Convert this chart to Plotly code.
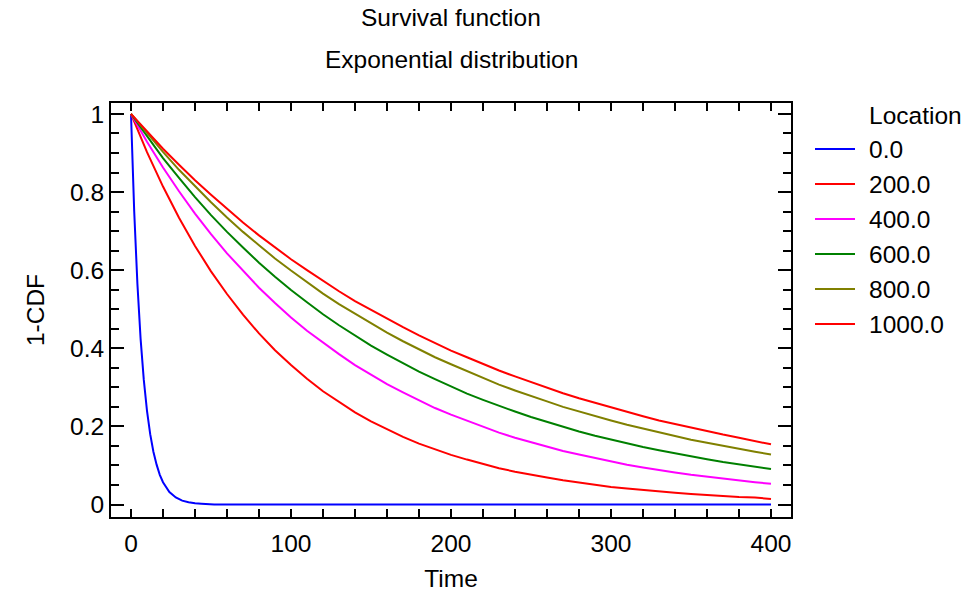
import plotly.graph_objects as go

# ---- data ----
time_blue = [0, 2, 4, 6, 8, 10, 12, 14, 16, 18, 20, 24, 28, 32, 36, 40, 44, 48, 52, 100, 200, 300, 400]
surv_loc0 = [1.0, 0.751, 0.565, 0.424, 0.319, 0.240, 0.180, 0.135, 0.102, 0.076, 0.057,
             0.032, 0.018, 0.010, 0.006, 0.003, 0.002, 0.001, 0.0, 0.0, 0.0, 0.0, 0.0]

time = [0, 10, 20, 30, 40, 50, 60, 70, 80, 90, 100, 110, 120, 130, 140, 150, 160, 170, 180, 190,
        200, 210, 220, 230, 240, 250, 260, 270, 280, 290, 300, 310, 320, 330, 340, 350, 360, 370,
        380, 390, 400]

surv_loc200 = [1.0, 0.902, 0.814, 0.734, 0.662, 0.597, 0.539, 0.486, 0.438, 0.395, 0.357,
               0.322, 0.290, 0.262, 0.236, 0.213, 0.192, 0.173, 0.156, 0.141, 0.127,
               0.115, 0.104, 0.093, 0.084, 0.076, 0.069, 0.062, 0.056, 0.050, 0.045,
               0.041, 0.037, 0.033, 0.030, 0.027, 0.024, 0.022, 0.019, 0.018, 0.014]

surv_loc400 = [1.0, 0.929, 0.863, 0.802, 0.745, 0.692, 0.643, 0.598, 0.555, 0.516, 0.479,
               0.445, 0.414, 0.385, 0.357, 0.332, 0.308, 0.287, 0.266, 0.247, 0.230,
               0.214, 0.198, 0.184, 0.171, 0.159, 0.148, 0.137, 0.128, 0.119, 0.110,
               0.102, 0.095, 0.088, 0.082, 0.076, 0.071, 0.066, 0.061, 0.057, 0.053]

surv_loc600 = [1.0, 0.942, 0.887, 0.836, 0.787, 0.741, 0.698, 0.658, 0.619, 0.583, 0.549,
               0.518, 0.487, 0.459, 0.432, 0.407, 0.384, 0.361, 0.340, 0.321, 0.302,
               0.284, 0.268, 0.252, 0.238, 0.224, 0.211, 0.199, 0.187, 0.176, 0.166,
               0.156, 0.147, 0.139, 0.131, 0.123, 0.116, 0.109, 0.103, 0.097, 0.091]

surv_loc800 = [1.0, 0.950, 0.903, 0.857, 0.815, 0.774, 0.735, 0.698, 0.664, 0.630, 0.599,
               0.569, 0.540, 0.513, 0.488, 0.463, 0.440, 0.418, 0.397, 0.377, 0.359,
               0.341, 0.324, 0.307, 0.292, 0.277, 0.264, 0.250, 0.238, 0.226, 0.215,
               0.204, 0.194, 0.184, 0.175, 0.166, 0.158, 0.150, 0.142, 0.135, 0.128]

surv_loc1000 = [1.0, 0.955, 0.911, 0.870, 0.830, 0.793, 0.757, 0.722, 0.689, 0.658, 0.628,
                0.600, 0.572, 0.546, 0.521, 0.498, 0.475, 0.454, 0.433, 0.413, 0.394,
                0.377, 0.359, 0.343, 0.328, 0.313, 0.298, 0.285, 0.272, 0.260, 0.248,
                0.236, 0.226, 0.215, 0.206, 0.196, 0.187, 0.179, 0.171, 0.163, 0.154]

legend_title = "Location"
series_names = ["0.0", "200.0", "400.0", "600.0", "800.0", "1000.0"]
series_colors = ["#0000FF", "#FF0000", "#FF00FF", "#008000", "#808000", "#FF0000"]

x_ticks = [0, 100, 200, 300, 400]
y_ticks = [0, 0.2, 0.4, 0.6, 0.8, 1]
y_tick_text = ["0", "0.2", "0.4", "0.6", "0.8", "1"]

FONT = "Liberation Sans, Arial, sans-serif"
FS = 24.5

fig = go.Figure()
all_x = [time_blue, time, time, time, time, time]
all_y = [surv_loc0, surv_loc200, surv_loc400, surv_loc600, surv_loc800, surv_loc1000]
for i, (xs, ys) in enumerate(zip(all_x, all_y)):
    fig.add_trace(go.Scatter(
        x=xs, y=ys, mode="lines", name=series_names[i],
        line=dict(color=series_colors[i], width=2),
        showlegend=False,
    ))

axis_common = dict(
    showline=True, linecolor="black", linewidth=2, mirror="ticks",
    ticks="inside", tickcolor="black", tickwidth=2,
    showgrid=False, zeroline=False, automargin=False,
    tickfont=dict(family=FONT, size=FS, color="black"),
)

fig.update_xaxes(
    range=[-12.5, 412.5], tickvals=x_ticks, ticklen=8, ticklabelstandoff=4,
    minor=dict(dtick=20, tick0=0, ticks="inside", ticklen=8, tickwidth=2, tickcolor="black"),
    title=dict(text="Time", font=dict(family=FONT, size=FS, color="black"), standoff=13),
    **axis_common,
)
fig.update_yaxes(
    range=[-0.032, 1.028], tickvals=y_ticks, ticktext=y_tick_text, ticklen=13,
    minor=dict(dtick=0.05, tick0=0, ticks="inside", ticklen=8, tickwidth=2, tickcolor="black"),
    title=dict(text="1-CDF", font=dict(family=FONT, size=FS, color="black"), standoff=18),
    **axis_common,
)

# titles and a legend next to the plot area (pixel offsets from the plot corner)
annotations = [
    dict(text="Survival function", xref="paper", yref="paper", x=0.5, y=1.0,
         xanchor="center", yanchor="middle", yshift=86, showarrow=False,
         font=dict(family=FONT, size=FS)),
    dict(text="Exponential distribution", xref="paper", yref="paper", x=0.5, y=1.0,
         xanchor="center", yanchor="middle", yshift=44, showarrow=False,
         font=dict(family=FONT, size=FS)),
    dict(text=legend_title, xref="paper", yref="paper", x=1.0, y=1.0,
         xanchor="left", yanchor="middle", xshift=76, yshift=-12, showarrow=False,
         font=dict(family=FONT, size=FS)),
]
shapes = []
for i, (name, color) in enumerate(zip(series_names, series_colors)):
    dy = -46 - 35 * i
    annotations.append(dict(
        text=name, xref="paper", yref="paper", x=1.0, y=1.0,
        xanchor="left", yanchor="middle", xshift=76, yshift=dy, showarrow=False,
        font=dict(family=FONT, size=FS)))
    shapes.append(dict(
        type="line", xref="paper", yref="paper",
        xsizemode="pixel", ysizemode="pixel", xanchor=1.0, yanchor=1.0,
        x0=24, x1=64, y0=dy, y1=dy,
        line=dict(color=color, width=2)))

fig.update_layout(
    width=966, height=595,
    margin=dict(l=111, r=175, t=103, b=78, autoexpand=False),
    paper_bgcolor="white", plot_bgcolor="white",
    font=dict(family=FONT, size=FS, color="black"),
    showlegend=False,
    annotations=annotations,
    shapes=shapes,
)

fig.write_html(
    "out.html",
    config={"displayModeBar": False},
    post_script="document.body.style.margin='0px';document.body.style.overflow='hidden';",
)
